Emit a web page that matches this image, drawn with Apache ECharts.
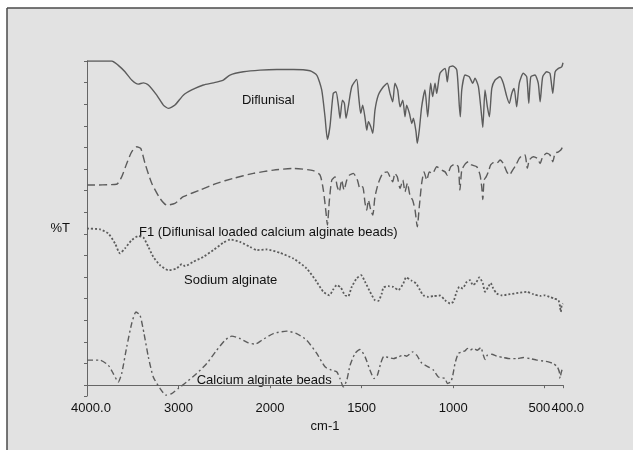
<!DOCTYPE html>
<html>
<head>
<meta charset="utf-8">
<script src="https://cdn.jsdelivr.net/npm/echarts@6/dist/echarts.min.js"></script>
<style>
  html, body { margin: 0; padding: 0; background: #fff; }
  #irChart { width: 633px; height: 450px; }
</style>
</head>
<body>
<div id="irChart"></div>
<script>
// wavenumber (cm-1) and %T (offset traces)
const diflunisal = [
  [4000, 150.0], [3730, 150.0], [3661, 148.1], [3585, 145.0], [3512, 141.2], [3440, 139.3],
  [3385, 139.9], [3330, 138.9], [3238, 134.2], [3166, 129.6], [3112, 128.1], [3039, 129.6],
  [2948, 134.2], [2856, 136.6], [2729, 138.9], [2620, 139.9], [2511, 141.2], [2438, 143.5],
  [2292, 145.0], [2110, 145.8], [1964, 146.1], [1873, 146.1], [1782, 145.5], [1745, 143.5],
  [1718, 136.6], [1700, 124.2], [1687, 113.7], [1673, 119.6], [1655, 135.0], [1640, 135.8],
  [1627, 129.6], [1618, 123.5], [1605, 131.9], [1594, 130.4], [1585, 123.5], [1573, 128.8],
  [1554, 138.1], [1527, 141.5], [1516, 133.5], [1505, 125.8], [1494, 129.6], [1481, 123.5],
  [1472, 118.0], [1463, 121.9], [1450, 119.6], [1439, 116.5], [1427, 127.3], [1409, 134.2],
  [1381, 138.1], [1360, 139.7], [1345, 135.0], [1330, 131.1], [1318, 139.7], [1303, 136.6],
  [1290, 128.8], [1275, 131.9], [1263, 124.2], [1254, 129.6], [1239, 125.8], [1226, 121.1],
  [1217, 123.5], [1203, 117.3], [1196, 111.9], [1185, 118.0], [1172, 128.8], [1154, 136.6],
  [1139, 124.2], [1123, 139.7], [1112, 133.5], [1099, 139.7], [1090, 135.0], [1072, 144.3],
  [1044, 146.6], [1032, 140.4], [1021, 147.1], [1002, 147.7], [980, 145.8], [966, 128.8],
  [961, 124.2], [953, 136.6], [935, 143.5], [912, 142.7], [893, 139.7], [881, 142.0],
  [862, 138.1], [844, 124.2], [838, 119.3], [826, 136.6], [813, 128.8], [802, 124.2],
  [789, 137.3], [771, 141.2], [744, 142.7], [726, 139.7], [707, 133.5], [693, 130.4],
  [680, 135.0], [667, 137.3], [653, 128.8], [639, 139.7], [617, 144.3], [598, 142.7],
  [587, 130.4], [576, 142.7], [553, 143.5], [535, 139.7], [525, 131.1], [511, 142.7],
  [489, 145.0], [471, 144.3], [456, 135.0], [443, 145.0], [425, 146.6], [407, 147.3],
  [400, 149.2]
];
const f1Beads = [
  [4000, 92.6], [3676, 93.0], [3621, 96.4], [3566, 102.6], [3512, 108.0], [3457, 110.3],
  [3413, 109.6], [3366, 102.6], [3293, 93.4], [3202, 86.4], [3129, 83.3], [3039, 84.1],
  [2948, 87.2], [2765, 90.3], [2583, 93.4], [2402, 95.7], [2183, 98.0], [1982, 99.5],
  [1873, 100.3], [1764, 99.3], [1727, 97.2], [1709, 90.3], [1694, 79.5], [1687, 74.1],
  [1676, 85.6], [1663, 94.9], [1645, 96.4], [1633, 91.8], [1622, 89.5], [1609, 94.9],
  [1596, 90.3], [1581, 94.9], [1567, 97.2], [1545, 98.0], [1523, 94.9], [1509, 91.0],
  [1494, 91.8], [1481, 84.1], [1472, 81.0], [1463, 85.6], [1450, 81.0], [1439, 78.7],
  [1427, 87.2], [1409, 93.4], [1385, 98.0], [1360, 98.7], [1345, 96.4], [1330, 94.1],
  [1318, 98.0], [1305, 96.4], [1290, 91.0], [1275, 94.9], [1263, 89.5], [1250, 93.4],
  [1236, 87.9], [1221, 85.6], [1208, 81.0], [1196, 73.3], [1185, 82.5], [1172, 93.4],
  [1159, 98.7], [1144, 94.9], [1130, 98.7], [1112, 98.0], [1090, 101.1], [1062, 99.5],
  [1044, 98.7], [1032, 97.2], [1013, 101.1], [990, 102.3], [972, 101.1], [963, 90.3],
  [953, 99.5], [935, 102.3], [917, 103.4], [899, 101.9], [871, 101.1], [853, 97.2],
  [844, 91.8], [838, 85.9], [831, 94.9], [820, 96.4], [808, 98.7], [795, 101.9],
  [781, 102.9], [762, 102.6], [744, 104.2], [726, 102.6], [707, 98.7], [693, 97.2],
  [675, 99.5], [657, 101.9], [639, 104.9], [620, 106.5], [607, 106.5], [595, 100.3],
  [584, 104.2], [562, 105.7], [540, 104.9], [525, 102.6], [511, 105.7], [489, 107.3],
  [471, 106.5], [456, 103.4], [443, 107.3], [425, 108.0], [412, 108.8], [400, 110.6]
];
const sodiumAlginate = [
  [4000, 72.5], [3858, 72.1], [3767, 70.2], [3694, 65.6], [3640, 61.0], [3585, 63.3],
  [3512, 67.1], [3440, 69.0], [3385, 68.4], [3330, 64.0], [3276, 59.4], [3202, 55.5],
  [3112, 53.2], [3020, 54.0], [2965, 56.0], [2929, 55.1], [2839, 57.1], [2729, 59.4],
  [2620, 62.5], [2511, 65.9], [2438, 67.4], [2329, 66.3], [2219, 64.0], [2146, 62.5],
  [2037, 62.8], [1946, 61.2], [1873, 58.6], [1800, 54.0], [1745, 47.8], [1709, 43.2],
  [1676, 41.6], [1655, 44.3], [1636, 46.3], [1614, 45.2], [1591, 41.6], [1573, 41.2],
  [1554, 45.5], [1527, 49.4], [1503, 50.9], [1481, 47.8], [1454, 43.2], [1427, 39.3],
  [1409, 39.0], [1390, 42.4], [1381, 45.2], [1354, 45.8], [1327, 45.5], [1299, 44.0],
  [1272, 47.1], [1257, 49.9], [1226, 48.3], [1203, 47.1], [1181, 44.0], [1163, 41.6],
  [1136, 40.9], [1108, 41.2], [1072, 41.5], [1044, 39.3], [1017, 37.8], [999, 38.6],
  [981, 43.2], [966, 45.5], [948, 44.8], [926, 47.8], [908, 48.6], [893, 46.3],
  [875, 47.4], [857, 49.9], [838, 47.1], [826, 43.2], [808, 45.5], [795, 47.3],
  [781, 44.8], [762, 42.4], [735, 41.6], [689, 42.1], [644, 42.7], [598, 43.2],
  [562, 42.1], [525, 41.3], [498, 41.6], [475, 40.9], [449, 40.1], [425, 39.3],
  [416, 36.2], [412, 33.9], [407, 37.0], [401, 37.8]
];
const calciumAlginate = [
  [4000, 11.6], [3858, 11.6], [3767, 9.2], [3713, 5.4], [3658, 1.5], [3621, 5.4],
  [3566, 17.7], [3512, 28.5], [3465, 33.9], [3421, 32.4], [3377, 23.9], [3330, 13.1],
  [3276, 3.8], [3202, -1.5], [3137, -4.6], [3075, -3.9], [3003, -1.5], [2911, 1.5],
  [2802, 5.4], [2692, 10.0], [2583, 16.2], [2492, 20.8], [2419, 22.7], [2329, 21.6],
  [2238, 19.6], [2165, 19.0], [2091, 20.8], [1982, 23.9], [1909, 25.0], [1855, 23.9],
  [1800, 20.8], [1745, 14.7], [1700, 8.5], [1663, 6.9], [1636, 6.2], [1618, 3.1],
  [1600, -0.8], [1581, 2.3], [1563, 9.2], [1536, 14.7], [1509, 16.5], [1481, 13.1],
  [1454, 6.9], [1432, 3.1], [1414, 4.6], [1396, 10.0], [1378, 13.4], [1354, 12.8],
  [1327, 12.3], [1299, 13.1], [1272, 13.9], [1254, 13.4], [1221, 15.4], [1199, 13.9],
  [1172, 10.3], [1136, 8.5], [1108, 7.0], [1081, 3.8], [1044, 3.1], [1032, 0.8],
  [1013, 1.5], [1002, 4.6], [990, 10.0], [972, 14.7], [953, 15.4], [935, 15.9],
  [922, 17.0], [908, 16.2], [890, 17.0], [868, 16.2], [849, 17.4], [835, 13.9],
  [826, 11.9], [813, 13.9], [789, 14.3], [762, 13.4], [726, 12.8], [689, 12.3],
  [653, 12.3], [617, 12.8], [580, 12.3], [543, 11.6], [507, 11.2], [480, 10.8],
  [453, 10.0], [431, 8.5], [420, 6.1], [416, 3.1], [411, 5.4], [401, 8.5]
];

const seriesNames = [
  'Diflunisal',
  'F1 (Diflunisal loaded calcium alginate beads)',
  'Sodium alginate',
  'Calcium alginate beads'
];
// where each name is written: left edge [cm-1, %T]
const nameAnchors = [[2307, 131.9], [3432, 70.9], [2940, 48.6], [2802, 2.3]];

const xTicks = [4000, 3000, 2000, 1500, 1000, 500, 400];
const xTickLabels = ['4000.0', '3000', '2000', '1500', '1000', '500', '400.0'];

// instrument scale doubles below 2000 cm-1
function toAxis(wn) {
  return wn >= 2000 ? 4000 - wn : 2000 + 2 * (2000 - wn);
}
function fromAxis(t) {
  return t <= 2000 ? 4000 - t : 2000 - (t - 2000) / 2;
}
function mapSpectrum(arr) {
  return arr.map(function(p) { return [toAxis(p[0]), p[1]]; });
}

const chart = echarts.init(document.getElementById('irChart'));
const styles = [
  { type: 'solid', width: 1.4 },
  { type: [8, 4], width: 1.4 },
  { type: [2, 2], width: 1.8 },
  { type: [6, 3, 2, 3], width: 1.4 }
];
const spectra = [diflunisal, f1Beads, sodiumAlginate, calciumAlginate];
const font = 'Liberation Sans, Arial, sans-serif';
const labelText = { fontSize: 13, color: '#111', fontFamily: font };

chart.setOption({
  backgroundColor: '#fff',
  animation: false,
  graphic: [
    { id: 'panel', type: 'rect', z: -10, shape: { x: 7, y: 8, width: 640, height: 460 }, style: { fill: '#e2e2e2' } },
    { id: 'topEdge', type: 'line', z: -9, shape: { x1: 7, y1: 8, x2: 633, y2: 8 }, style: { stroke: '#4a4a4a', lineWidth: 1.5 } },
    { id: 'leftEdge', type: 'line', z: -9, shape: { x1: 7, y1: 8, x2: 7, y2: 450 }, style: { stroke: '#4a4a4a', lineWidth: 1.5 } }
  ],
  grid: { left: 87, right: 70, top: 61, bottom: 54 },
  xAxis: {
    type: 'value',
    min: 0,
    max: 5200,
    interval: 1000,
    name: 'cm-1',
    nameLocation: 'middle',
    nameGap: 20,
    nameTextStyle: labelText,
    axisLine: { lineStyle: { color: '#666', width: 1 } },
    axisTick: { length: 3, lineStyle: { color: '#666' } },
    splitLine: { show: false },
    axisLabel: {
      fontSize: 13,
      color: '#111',
      fontFamily: font,
      margin: 6,
      showMinLabel: true,
      showMaxLabel: true,
      hideOverlap: false,
      formatter: function(t) {
        const wn = Math.round(fromAxis(t));
        const i = xTicks.indexOf(wn);
        const txt = i >= 0 ? xTickLabels[i] : String(wn);
        if (wn === 4000) return '{first|' + txt + '}';
        if (wn === 500) return '{before|' + txt + '}';
        if (wn === 400) return '{last|' + txt + '}';
        return txt;
      },
      // the last two labels sit edge to edge, as on the instrument printout
      rich: {
        first: Object.assign({ padding: [0, 0, 0, 8] }, labelText),
        before: Object.assign({ width: 11, align: 'right' }, labelText),
        last: Object.assign({ width: 23, align: 'left' }, labelText)
      }
    }
  },
  yAxis: {
    type: 'value',
    min: -5,
    max: 150,
    minInterval: 10,
    maxInterval: 10,
    name: '%T',
    nameLocation: 'middle',
    nameRotate: 0,
    nameGap: 17,
    nameTextStyle: labelText,
    axisLine: { show: true, lineStyle: { color: '#666', width: 1 } },
    axisTick: { show: true, length: 3, lineStyle: { color: '#666' } },
    axisLabel: { show: false },
    splitLine: { show: false }
  },
  series: spectra.map(function(s, i) {
    return {
      name: seriesNames[i],
      type: 'line',
      data: mapSpectrum(s),
      showSymbol: false,
      smooth: 0.2,
      lineStyle: { color: '#5c5c5c', width: styles[i].width, type: styles[i].type }
    };
  })
});

// series names placed next to their traces
chart.setOption({
  graphic: seriesNames.map(function(n, i) {
    const p = chart.convertToPixel({ gridIndex: 0 }, [toAxis(nameAnchors[i][0]), nameAnchors[i][1]]);
    return {
      id: 'seriesName' + i,
      type: 'text',
      x: p[0],
      y: p[1],
      style: { text: n, fontSize: 13, fill: '#111', fontFamily: font, verticalAlign: 'middle', align: 'left' }
    };
  })
});

window.onresize = function() {
  chart.resize();
};
</script>
</body>
</html>
